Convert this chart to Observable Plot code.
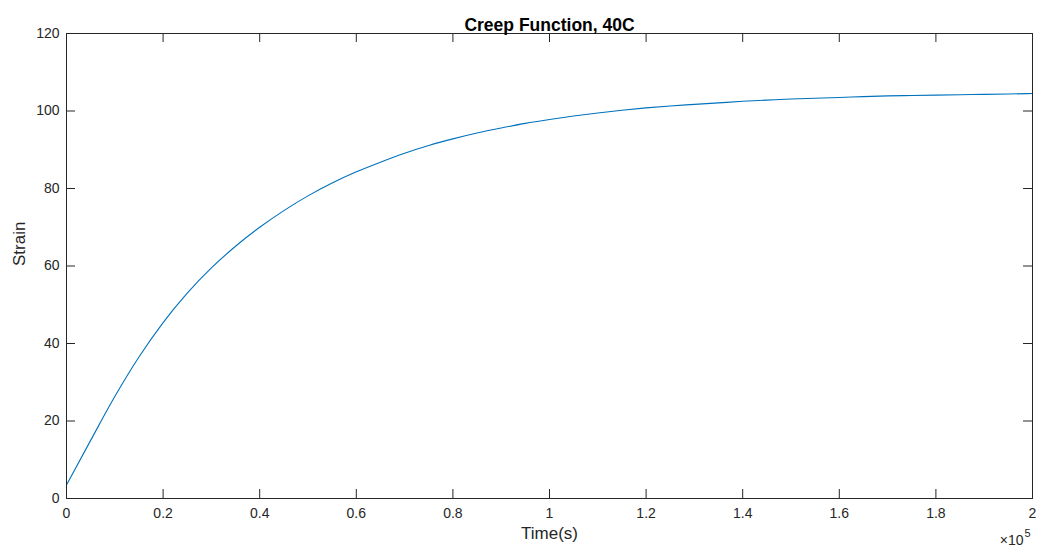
<!DOCTYPE html>
<html><head><meta charset="utf-8">
<script src="https://cdn.jsdelivr.net/npm/d3@7"></script>
<script src="https://cdn.jsdelivr.net/npm/@observablehq/plot@0.6"></script>
<style>body{margin:0;background:#fff} svg{display:block}</style>
</head><body><div id="chart"></div>
<script>
// Time (s) and strain
const timeS = [0, 5000, 10000, 15000, 20000, 25000, 30000, 35000, 40000, 45000, 50000, 55000, 60000, 65000, 70000, 75000, 80000, 85000, 90000, 95000, 100000, 105000, 110000, 115000, 120000, 125000, 130000, 135000, 140000, 145000, 150000, 155000, 160000, 165000, 170000, 175000, 180000, 185000, 190000, 195000, 200000];
const strain = [3.5, 15.0, 26.3, 36.5, 45.4, 53.0, 59.5, 65.1, 70.0, 74.3, 78.1, 81.4, 84.3, 86.8, 89.1, 91.1, 92.8, 94.3, 95.6, 96.8, 97.8, 98.7, 99.5, 100.2, 100.8, 101.3, 101.7, 102.1, 102.5, 102.8, 103.1, 103.3, 103.5, 103.7, 103.9, 104.0, 104.1, 104.2, 104.3, 104.4, 104.5];
const xTicks = [0, 20000, 40000, 60000, 80000, 100000, 120000, 140000, 160000, 180000, 200000];
const yTicks = [0, 20, 40, 60, 80, 100, 120];
const titleText = "Creep Function, 40C";
const xLabel = "Time(s)";
const yLabel = "Strain";
const expBase = "\u00d710";
const expPow = "5";

const data = timeS.map((t, i) => ({t, s: strain[i]}));
const ink = "#262626";
const font = "'Liberation Sans', Arial, Helvetica, sans-serif";
const fmtX = d => String(+(d / 1e5).toFixed(1));

const chart = Plot.plot({
  width: 1037, height: 557,
  marginLeft: 66, marginRight: 5, marginTop: 33, marginBottom: 59,
  style: {fontFamily: font, fontSize: "14px", color: ink, background: "#fff"},
  x: {type: "linear", domain: [0, 200000]},
  y: {type: "linear", domain: [0, 120]},
  marks: [
    Plot.axisX(xTicks, {anchor: "bottom", tickSize: 0, tickPadding: 10, tickFormat: fmtX, label: null, fill: ink}),
    Plot.axisY(yTicks, {anchor: "left", tickSize: 0, tickPadding: 7, label: null, fill: ink}),
    Plot.tickX(xTicks, {x: d => d, insetTop: 456, stroke: ink, strokeWidth: 1}),
    Plot.tickX(xTicks, {x: d => d, insetBottom: 456, stroke: ink, strokeWidth: 1}),
    Plot.tickY(yTicks, {y: d => d, insetRight: 957, stroke: ink, strokeWidth: 1}),
    Plot.tickY(yTicks, {y: d => d, insetLeft: 957, stroke: ink, strokeWidth: 1}),
    Plot.line(data, {x: "t", y: "s", stroke: "#0072BD", strokeWidth: 1.1, curve: "monotone-x"}),
    Plot.frame({stroke: ink, strokeWidth: 1}),
    Plot.text([titleText], {frameAnchor: "top", dy: -15, fontWeight: "bold", fontSize: 17.5, fill: "#000"}),
    Plot.text([xLabel], {frameAnchor: "bottom", dy: 40, fontSize: 17, fill: ink}),
    Plot.text([yLabel], {frameAnchor: "left", dx: -47, rotate: -90, fontSize: 17, fill: ink}),
    Plot.text([expBase], {frameAnchor: "bottom-right", dx: -9, dy: 46, textAnchor: "end", fontSize: 14, fill: ink}),
    Plot.text([expPow], {frameAnchor: "bottom-right", dx: -8, dy: 38, textAnchor: "start", fontSize: 11, fill: ink})
  ]
});
document.getElementById("chart").appendChild(chart);
</script>
</body></html>
